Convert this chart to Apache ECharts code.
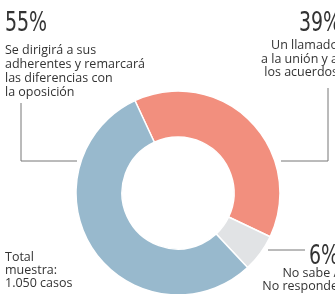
<!DOCTYPE html>
<html>
<head>
<meta charset="utf-8">
<script src="https://cdn.jsdelivr.net/npm/echarts@6/dist/echarts.min.js"></script>
<style>
  html, body { margin: 0; padding: 0; background: #fff; }
  #chart { width: 335px; height: 294px; }
</style>
</head>
<body>
<div id="chart"></div>
<script>
// datos de la encuesta
var categories = ['Un llamado a la unión y a los acuerdos', 'No sabe / No responde', 'Se dirigirá a sus adherentes y remarcará las diferencias con la oposición'];
var values = [39, 6, 55];
var descriptions = [
  'Un llamado\na la unión y a\nlos acuerdos',
  'No sabe /\nNo responde',
  'Se dirigirá a sus\nadherentes y remarcará\nlas diferencias con\nla oposición'
];
var totalNote = 'Total\nmuestra:\n1.050 casos';

var palette = ['#F28F7E', '#E1E3E5', '#98B9CD'];
var textColor = '#333';
var lineColor = '#777';
var bigFont = '"Liberation Sans Narrow", "DejaVu Sans Condensed", sans-serif';
var smallFont = '"Open Sans", "Noto Sans", sans-serif';

var chart = echarts.init(document.getElementById('chart'));

var pieData = categories.map(function (c, i) {
  return { name: c, value: values[i] };
});

// numeros grandes, angostos
function bigText(str, x, y, align) {
  return {
    type: 'text', x: x, y: y, scaleX: 0.78,
    style: { text: str, fill: textColor, font: '27px ' + bigFont, textAlign: align, textVerticalAlign: 'middle' }
  };
}

function smallText(str, x, y, align, lh) {
  return {
    type: 'text', x: x, y: y,
    style: { text: str, fill: textColor, fontSize: 12.5, fontFamily: smallFont, lineHeight: lh, textAlign: align, textVerticalAlign: 'top' }
  };
}

function leader(points) {
  return {
    type: 'polyline',
    shape: { points: points },
    style: { stroke: lineColor, lineWidth: 1, fill: null }
  };
}

chart.setOption({
  animation: false,
  color: palette,
  series: [{
    type: 'pie',
    center: [178, 193],
    radius: [56, 102],
    startAngle: 115,
    clockwise: true,
    label: { show: false },
    labelLine: { show: false },
    itemStyle: { borderColor: '#fff', borderWidth: 1.5 },
    emphasis: { disabled: true },
    data: pieData
  }],
  graphic: [
    // 55%
    bigText(values[2] + '%', 5, 24, 'left'),
    smallText(descriptions[2], 5, 43, 'left', 14),
    leader([[21, 103], [21, 161], [77, 161]]),
    // 39%
    bigText(values[0] + '%', 341, 24, 'right'),
    smallText(descriptions[0], 338, 39, 'right', 13.5),
    leader([[328, 88], [328, 161], [281, 161]]),
    // 6%
    bigText(values[1] + '%', 339, 257, 'right'),
    smallText(descriptions[1], 338, 267, 'right', 13),
    leader([[268, 250], [305, 250]]),
    // total
    smallText(totalNote, 5, 251, 'left', 13)
  ]
});
</script>
</body>
</html>
